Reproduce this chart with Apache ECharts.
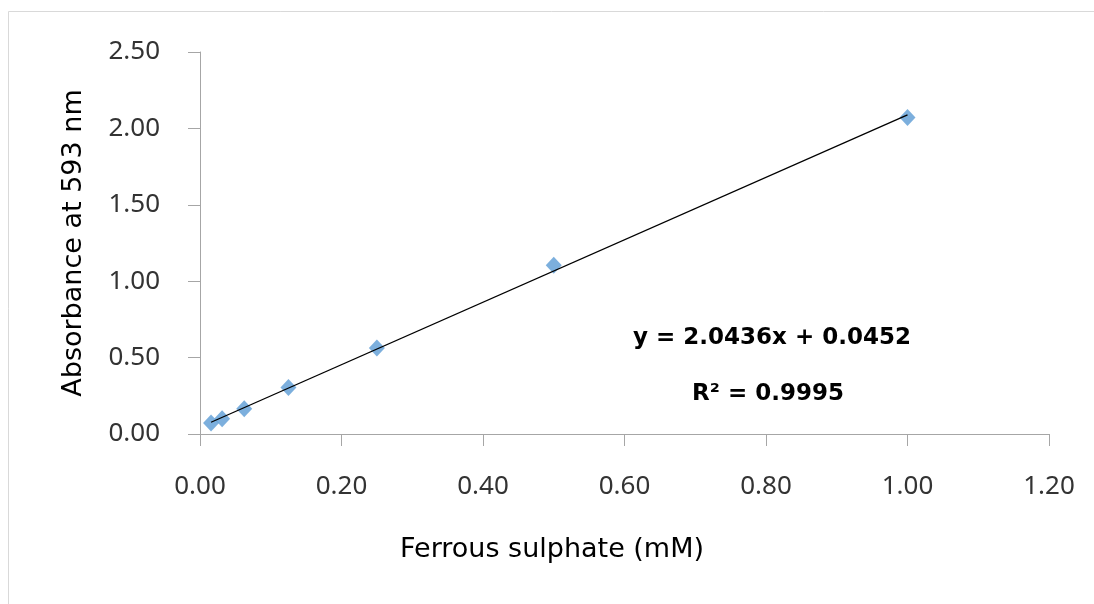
<!DOCTYPE html>
<html>
<head>
<meta charset="utf-8">
<script src="https://cdn.jsdelivr.net/npm/echarts@6/dist/echarts.min.js"></script>
<style>html,body{margin:0;padding:0;background:#fff}#c{width:1094px;height:604px}</style>
</head>
<body>
<div id="c"></div>
<script>
// Data
const concentration = [0.015625, 0.03125, 0.0625, 0.125, 0.25, 0.5, 1.0];
const absorbance = [0.072, 0.100, 0.166, 0.304, 0.563, 1.104, 2.071];
const trendX = [0.015625, 1.0];
const trendY = [0.077, 2.089];
const xTicks = [0, 0.2, 0.4, 0.6, 0.8, 1.0, 1.2];
const yTicks = [0, 0.5, 1.0, 1.5, 2.0, 2.5];
const equationText = 'y = 2.0436x + 0.0452';
const r2Text = 'R² = 0.9995';
const xTitle = 'Ferrous sulphate (mM)';
const yTitle = 'Absorbance at 593 nm';

const FONT = '"Noto Sans", sans-serif';
const TFONT = '"DejaVu Sans", sans-serif';
const axisColor = '#a6a6a6';

const chart = echarts.init(document.getElementById('c'));
chart.setOption({
  animation: false,
  backgroundColor: '#fff',
  grid: { left: 200, right: 45, top: 52, bottom: 170, containLabel: false },
  xAxis: {
    type: 'value', min: xTicks[0], max: xTicks[xTicks.length - 1], interval: 0.2,
    axisLine: { show: true, onZero: false, lineStyle: { color: axisColor, width: 1 } },
    axisTick: { show: true, length: 12, inside: false, lineStyle: { color: axisColor } },
    splitLine: { show: false },
    axisLabel: { margin: 40, fontFamily: FONT, fontSize: 26, color: '#333',
      formatter: v => v.toFixed(2) }
  },
  yAxis: {
    type: 'value', min: yTicks[0], max: yTicks[yTicks.length - 1], interval: 0.5,
    name: yTitle, nameLocation: 'middle', nameGap: 113,
    nameTextStyle: { fontFamily: TFONT, fontSize: 27, color: '#000' },
    axisLine: { show: true, lineStyle: { color: axisColor, width: 1 } },
    axisTick: { show: true, length: 12, inside: false, lineStyle: { color: axisColor } },
    splitLine: { show: false },
    axisLabel: { margin: 40, fontFamily: FONT, fontSize: 26, color: '#333',
      formatter: v => v.toFixed(2) }
  },
  series: [
    {
      type: 'line', data: trendX.map((x, i) => [x, trendY[i]]),
      symbol: 'none', lineStyle: { color: '#000', width: 1.3 }, z: 3, silent: true
    },
    {
      type: 'scatter', data: concentration.map((x, i) => [x, absorbance[i]]),
      symbol: 'diamond', symbolSize: [16, 17],
      itemStyle: { color: '#5B9BD5' }, z: 2
    }
  ],
  graphic: [
    { type: 'rect', shape: { x: 8.5, y: 11.5, width: 1100, height: 620 },
      style: { fill: 'none', stroke: '#d9d9d9', lineWidth: 1 }, z: -10 },
    { type: 'text', x: 552, y: 550,
      style: { text: xTitle, font: '27px ' + TFONT, fill: '#000', textAlign: 'center', textVerticalAlign: 'middle' } },
    { type: 'text', x: 772, y: 338,
      style: { text: equationText, font: 'bold 23px ' + TFONT, fill: '#000', textAlign: 'center', textVerticalAlign: 'middle' } },
    { type: 'text', x: 768, y: 394,
      style: { text: r2Text, font: 'bold 23px ' + TFONT, fill: '#000', textAlign: 'center', textVerticalAlign: 'middle' } }
  ]
});
</script>
</body>
</html>
